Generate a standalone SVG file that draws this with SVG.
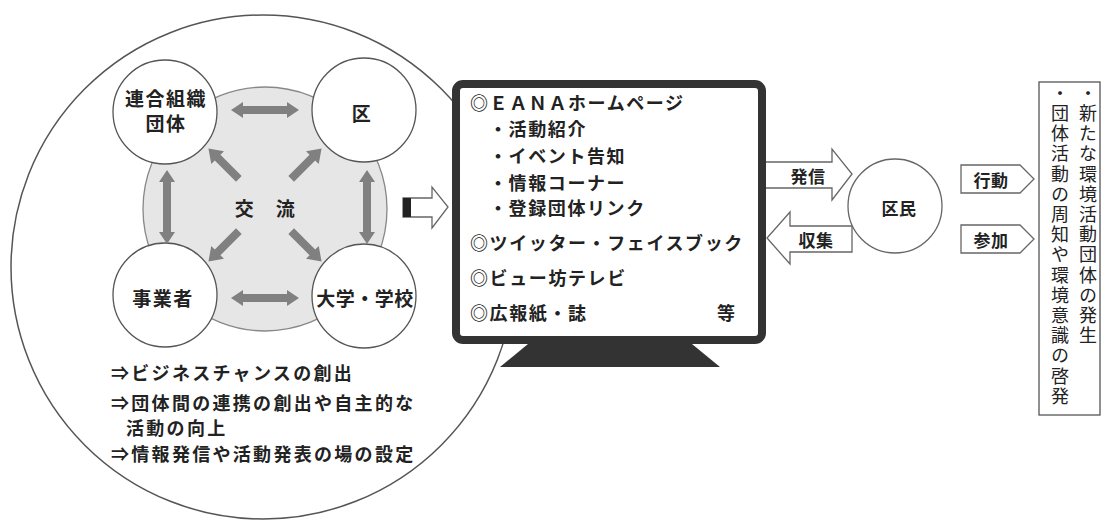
<svg xmlns="http://www.w3.org/2000/svg" width="1102" height="521" viewBox="0 0 1102 521">
<style>
text{font-family:"Noto Sans CJK JP","Noto Sans CJK SC",sans-serif;fill:#222;dominant-baseline:central}
.lbl{font-size:19px;font-weight:700;text-anchor:middle;letter-spacing:1.5px}
.mon{font-size:18px;font-weight:700;letter-spacing:1.6px}
.bot{font-size:18px;font-weight:700;letter-spacing:2.3px}
.sm{font-size:17px;font-weight:700;text-anchor:middle;letter-spacing:0.5px}
.vt{font-size:18px;writing-mode:vertical-rl;letter-spacing:2.2px}
.node{fill:#fff;stroke:#555;stroke-width:1.3}
.garrow{fill:#808080}
.hollow{fill:#fff;stroke:#666;stroke-width:1.3;stroke-linejoin:miter}
</style>
<defs>
<path id="dblh" d="M-34,0 L-22,-8 L-22,-4 L22,-4 L22,-8 L34,0 L22,8 L22,4 L-22,4 L-22,8 Z"/>
<path id="dblv" d="M0,-37 L-8,-25 L-4,-25 L-4,25 L-8,25 L0,37 L8,25 L4,25 L4,-25 L8,-25 Z"/>
<path id="sgl" d="M0,-4 L30,-4 L30,-9 L43,0 L30,9 L30,4 L0,4 Z"/>
</defs>
<rect width="1102" height="521" fill="#fff"/>

<g id="outer">
<circle cx="263" cy="267" r="252" fill="none" stroke="#555" stroke-width="1.5"/>
</g>

<g id="exchange">
<circle cx="265" cy="209" r="122" fill="#e6e6e6" stroke="#888" stroke-width="1.3"/>
<text class="lbl" x="245" y="207">交</text>
<text class="lbl" x="286" y="207">流</text>
</g>

<g id="n-rengo">
<circle class="node" cx="165" cy="112" r="52"/>
<text class="lbl" x="166" y="97">連合組織</text>
<text class="lbl" x="166" y="122">団体</text>
</g>
<g id="n-ku">
<circle class="node" cx="364" cy="110" r="52"/>
<text class="lbl" x="362" y="112">区</text>
</g>
<g id="n-jigyo">
<circle class="node" cx="165" cy="295" r="52"/>
<text class="lbl" x="163" y="297">事業者</text>
</g>
<g id="n-daigaku">
<circle class="node" cx="364" cy="296" r="52"/>
<text class="lbl" x="365" y="297" style="letter-spacing:0.5px">大学・学校</text>
</g>

<g id="connectors">
<use href="#dblh" class="garrow" x="265" y="110"/>
<use href="#dblh" class="garrow" x="265" y="298"/>
<use href="#dblv" class="garrow" x="167" y="207"/>
<use href="#dblv" class="garrow" x="367" y="207"/>
<g class="garrow">
<use href="#sgl" transform="translate(265,205) rotate(-135) translate(37,0)"/>
<use href="#sgl" transform="translate(265,205) rotate(-45) translate(37,0)"/>
<use href="#sgl" transform="translate(265,205) rotate(135) translate(37,0)"/>
<use href="#sgl" transform="translate(265,205) rotate(45) translate(37,0)"/>
</g>
<polygon class="hollow" points="403,198 432,198 432,187 448,207 432,228 432,217 403,217"/>
<rect x="403" y="198" width="8" height="19" fill="#222"/>
<polygon class="hollow" points="765,162 832,162 832,149 852,174 832,200 832,188 765,188"/>
<text class="sm" x="808" y="175">発信</text>
<polygon class="hollow" points="852,226 790,226 790,212 767,238 790,264 790,252 852,252"/>
<text class="sm" x="816" y="239">収集</text>
<polygon class="hollow" points="961,165 1020,165 1034,179 1020,193 961,193"/>
<text class="sm" x="991" y="179">行動</text>
<polygon class="hollow" points="961,225 1020,225 1034,239 1020,253 961,253"/>
<text class="sm" x="991" y="239">参加</text>
</g>

<g id="outcomes">
<text class="bot" x="111" y="372">⇒ビジネスチャンスの創出</text>
<text class="bot" x="111" y="402">⇒団体間の連携の創出や自主的な</text>
<text class="bot" x="126" y="427">活動の向上</text>
<text class="bot" x="111" y="453">⇒情報発信や活動発表の場の設定</text>
</g>

<g id="monitor">
<polygon points="528,344 692,344 720,367 500,367" fill="#333"/>
<rect x="456" y="84" width="306" height="256" rx="7" fill="#fff" stroke="#333" stroke-width="8"/>
<text class="mon" x="470" y="102">◎ＥＡＮＡホームページ</text>
<text class="mon" x="489" y="128">・活動紹介</text>
<text class="mon" x="489" y="155">・イベント告知</text>
<text class="mon" x="489" y="182">・情報コーナー</text>
<text class="mon" x="489" y="207">・登録団体リンク</text>
<text class="mon" x="470" y="242">◎ツイッター・フェイスブック</text>
<text class="mon" x="470" y="277">◎ビュー坊テレビ</text>
<text class="mon" x="470" y="312">◎広報紙・誌</text>
<text class="mon" x="717" y="312">等</text>
</g>

<g id="n-kumin">
<circle cx="895" cy="206" r="47" fill="#fff" stroke="#666" stroke-width="1.3"/>
<text class="sm" x="899" y="207">区民</text>
</g>

<g id="result">
<rect x="1039" y="82" width="61" height="333" fill="#fff" stroke="#555" stroke-width="1.3"/>
<text class="vt" x="1088" y="84">・新たな環境活動団体の発生</text>
<text class="vt" x="1060" y="84">・団体活動の周知や環境意識の啓発</text>
</g>
</svg>
